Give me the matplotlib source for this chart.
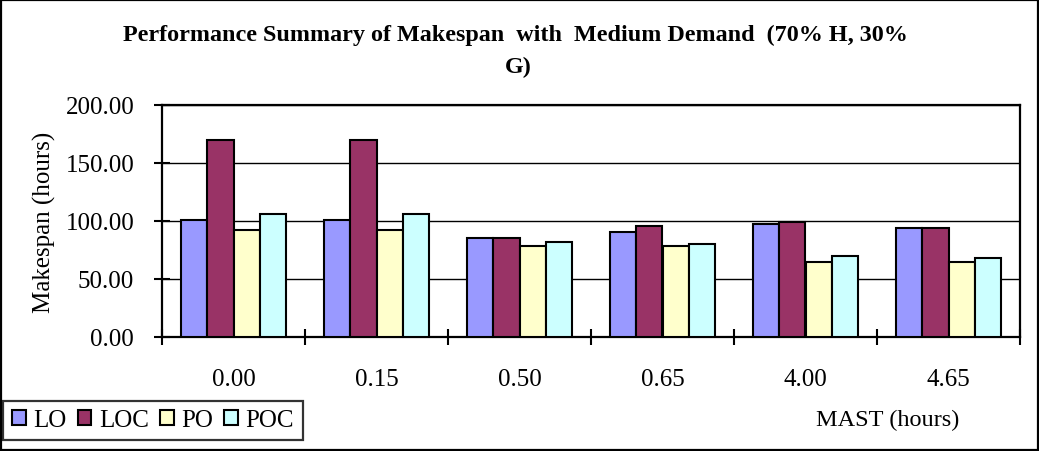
import matplotlib
matplotlib.use('Agg')
import matplotlib.pyplot as plt
from matplotlib.patches import Rectangle
import numpy as np

plt.rcParams['font.family'] = ['Liberation Serif', 'DejaVu Serif']

# data
mast = ['0.00', '0.15', '0.50', '0.65', '4.00', '4.65']
series = ['LO', 'LOC', 'PO', 'POC']
lo = [101.2, 101.2, 85.6, 90.8, 97.7, 94.3]
loc = [170.2, 170.2, 85.6, 96.0, 99.4, 94.3]
po = [92.5, 92.5, 78.7, 78.7, 64.9, 64.9]
poc = [106.3, 106.3, 82.2, 80.5, 70.1, 68.4]
colors = ['#9999FF', '#993366', '#FFFFCC', '#CCFFFF']

fig = plt.figure(figsize=(10.39, 4.52), dpi=100)
ax = fig.add_axes([162/1039, 114/452, 858/1039, 232/452])

x = np.arange(len(mast))
w = 0.182
for i, (vals, name) in enumerate(zip([lo, loc, po, poc], series)):
    ax.bar(x + (i - 1.5) * w, vals, w, color=colors[i], edgecolor='black',
           linewidth=1.5, label=name, zorder=3)

ax.set_xlim(-0.5, len(mast) - 0.5)
ax.set_ylim(0, 200)
ax.set_yticks([0, 50, 100, 150, 200])
ax.set_yticklabels(['%.2f' % v for v in [0, 50, 100, 150, 200]])
ax.yaxis.grid(True, color='black', linewidth=1.0)
ax.set_axisbelow(True)

ax.set_xticks(x)
ax.set_xticklabels(mast)
ax.set_xticks(np.arange(-0.5, len(mast)), minor=True)
ax.tick_params(axis='x', which='major', length=0, pad=22, labelsize=18)
ax.tick_params(axis='x', which='minor', direction='inout', length=12, width=1.5)
ax.tick_params(axis='y', direction='inout', length=12, width=1.5, pad=14, labelsize=18)

for s in ax.spines.values():
    s.set_linewidth(1.6)

ax.set_ylabel('Makespan (hours)', fontsize=18, labelpad=7)

# title, wrapped onto two lines like the original
fig.text(515/1039, 1 - 41/452, 'Performance Summary of Makespan  with  Medium Demand  (70% H, 30%',
         ha='center', va='baseline', fontsize=17.4, fontweight='bold')
fig.text(518/1039, 1 - 73/452, 'G)',
         ha='center', va='baseline', fontsize=17.4, fontweight='bold')

fig.text(888/1039, 1 - 420/452, 'MAST (hours)', ha='center', va='center', fontsize=17.5)

leg = fig.legend(loc='lower left', bbox_to_anchor=(3/1039, 11/452), ncol=4,
                 fontsize=18, frameon=True, fancybox=False, edgecolor='black',
                 handlelength=0.55, handleheight=0.55, handletextpad=0.3,
                 columnspacing=0.45, borderpad=0.35, borderaxespad=0)
leg.get_frame().set_linewidth(1.6)

fig.patches.append(Rectangle((1/1039, 1/452), 1037/1039, 450/452, transform=fig.transFigure,
                             fill=False, edgecolor='black', linewidth=1.6))

fig.savefig('out.png', dpi=100)
